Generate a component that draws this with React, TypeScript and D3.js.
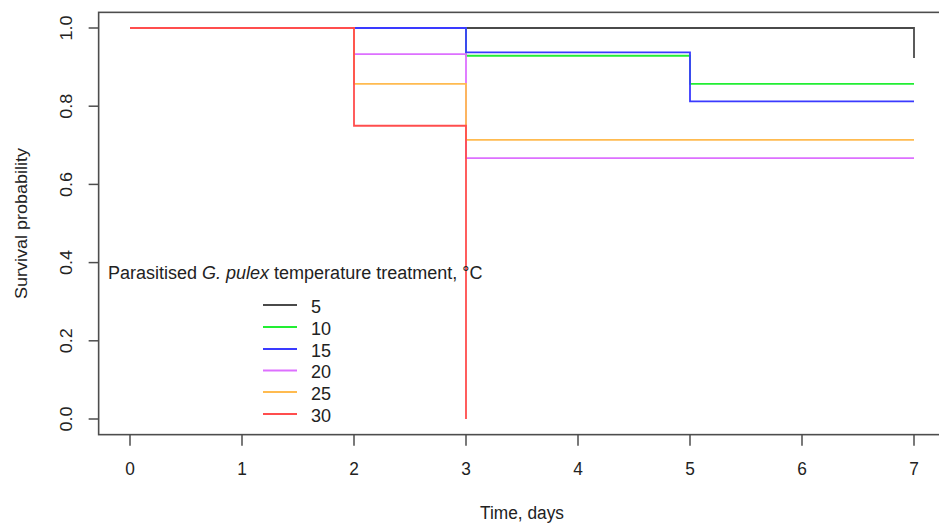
import React from "react";
import * as d3 from "d3";

const W = 939;
const H = 525;

const xTicks = [0, 1, 2, 3, 4, 5, 6, 7];
const yTicks = [0, 0.2, 0.4, 0.6, 0.8, 1.0];
const yTickLabels = ["0.0", "0.2", "0.4", "0.6", "0.8", "1.0"];

const groupNames = ["5", "10", "15", "20", "25", "30"];
const groupColors = ["#4a4a4a", "#22ee33", "#3a3aff", "#dd70ff", "#ffbb50", "#ff4d4d"];

const times5 = [0, 7];
const surv5 = [1, 0.923];
const times10 = [0, 3, 5, 7];
const surv10 = [1, 0.929, 0.857, 0.857];
const times15 = [0, 3, 5, 7];
const surv15 = [1, 0.9375, 0.8125, 0.8125];
const times20 = [0, 2, 3, 7];
const surv20 = [1, 0.933, 0.667, 0.667];
const times25 = [0, 2, 3, 7];
const surv25 = [1, 0.857, 0.714, 0.714];
const times30 = [0, 2, 3];
const surv30 = [1, 0.75, 0];

const seriesTimes = [times5, times10, times15, times20, times25, times30];
const seriesSurv = [surv5, surv10, surv15, surv20, surv25, surv30];

const FONT = "'Liberation Sans', Arial, Helvetica, sans-serif";
const SX = 0.96;

export default function App() {
  const x = d3.scaleLinear().domain([0, 7]).range([130, 914]);
  const y = d3.scaleLinear().domain([0, 1]).range([419, 28]);
  const x0 = x(-0.28);
  const x1 = x(7.28);
  const yTop = y(1.04);
  const yBot = y(-0.04);

  const line = d3
    .line<[number, number]>()
    .x((d) => x(d[0]))
    .y((d) => y(d[1]))
    .curve(d3.curveStepAfter);

  const axisColor = "#4d4d4d";
  const legendRows = [305, 327, 349, 370.5, 392, 414];

  return (
    <svg
      width={W}
      height={H}
      style={{ position: "absolute", left: 0, top: 0, background: "#fff" }}
      fontFamily={FONT}
    >
      <rect x={0} y={0} width={W} height={H} fill="#fff" />
      {/* box */}
      <rect x={x0} y={yTop} width={x1 - x0} height={yBot - yTop} fill="none" stroke={axisColor} strokeWidth={1.6} />
      {/* x axis ticks */}
      {xTicks.map((t) => (
        <g key={"xt" + t}>
          <line x1={x(t)} x2={x(t)} y1={yBot} y2={yBot + 11} stroke={axisColor} strokeWidth={1.5} />
          <text
            transform={`translate(${x(t)},475) scale(${SX},1)`}
            textAnchor="middle"
            fontSize={18}
            fill="#222"
          >
            {t}
          </text>
        </g>
      ))}
      {yTicks.map((t, i) => (
        <g key={"yt" + t}>
          <line x1={x0 - 10} x2={x0} y1={y(t)} y2={y(t)} stroke={axisColor} strokeWidth={1.5} />
          <text
            transform={`translate(72,${y(t)}) scale(${SX},1) rotate(-90)`}
            textAnchor="middle"
            fontSize={18}
            fill="#222"
          >
            {yTickLabels[i]}
          </text>
        </g>
      ))}
      <text transform={`translate(522,519) scale(${SX},1)`} textAnchor="middle" fontSize={18} fill="#222">
        Time, days
      </text>
      <text
        transform={`translate(27,${(y(0) + y(1)) / 2}) scale(${SX},1) rotate(-90)`}
        textAnchor="middle"
        fontSize={18}
        fill="#222"
      >
        Survival probability
      </text>
      {/* curves */}
      {seriesTimes.map((ts, i) => {
        const pts: [number, number][] = ts.map((t, j) => [t, seriesSurv[i][j]]);
        return (
          <path
            key={"s" + i}
            d={line(pts) || ""}
            fill="none"
            stroke={groupColors[i]}
            strokeWidth={1.8}
          />
        );
      })}
      {/* legend */}
      <text transform={`translate(108,279)`} fontSize={18} fill="#222">
        Parasitised <tspan fontStyle="italic">G. pulex</tspan> temperature treatment, °C
      </text>
      {groupNames.map((g, i) => (
        <g key={"lg" + g}>
          <line x1={263} x2={297} y1={legendRows[i]} y2={legendRows[i]} stroke={groupColors[i]} strokeWidth={2} />
          <text transform={`translate(311,${legendRows[i] + 7.5})`} fontSize={18} fill="#222">
            {g}
          </text>
        </g>
      ))}
    </svg>
  );
}
